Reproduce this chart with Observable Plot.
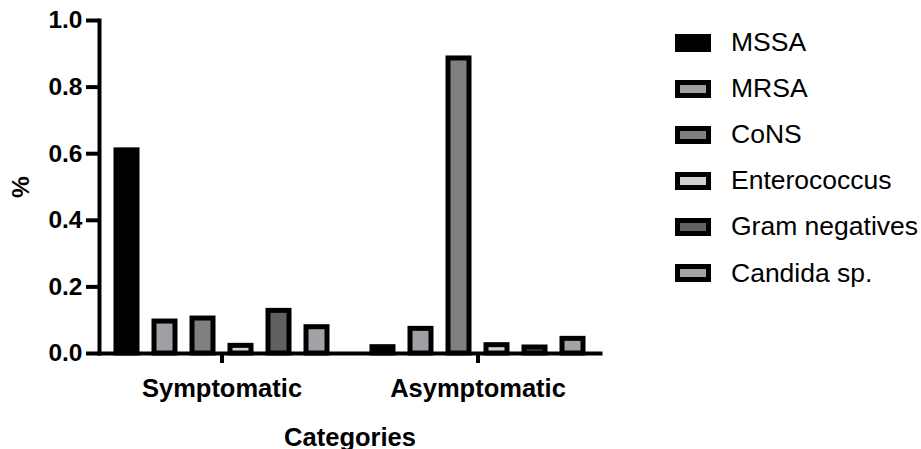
<!DOCTYPE html>
<html>
<head>
<meta charset="utf-8">
<script src="https://cdn.jsdelivr.net/npm/d3@7"></script>
<script src="https://cdn.jsdelivr.net/npm/@observablehq/plot@0.6"></script>
<style>
  html, body { margin: 0; padding: 0; background: #fff; }
  #wrap { position: relative; width: 921px; height: 449px; overflow: hidden; }
  #legend { position: absolute; left: 0; top: 0; font-family: "Liberation Sans", Arial, sans-serif; font-size: 26.5px; color: #000; }
  .item { position: absolute; display: flex; align-items: center; height: 30px; white-space: nowrap; }
  .sw { width: 36px; height: 18px; box-sizing: border-box; border: 5px solid #000; margin-right: 20px; }
</style>
</head>
<body>
<div id="wrap"><div id="legend"></div></div>
<script>
const categories = ["Symptomatic", "Asymptomatic"];
const species = ["MSSA", "MRSA", "CoNS", "Enterococcus", "Gram negatives", "Candida sp."];
const symptomatic = [0.61, 0.096, 0.105, 0.023, 0.128, 0.079];
const asymptomatic = [0.019, 0.074, 0.886, 0.025, 0.018, 0.044];
const colors = ["#000000", "#9f9fa4", "#808080", "#d2d2d2", "#616161", "#a2a2a7"];
const yTicks = [0, 0.2, 0.4, 0.6, 0.8, 1.0];

const series = [symptomatic, asymptomatic];
const data = categories.flatMap((c, i) =>
  species.map((s, j) => ({category: c, species: s, value: series[i][j]}))
);

const chart = Plot.plot({
  width: 921,
  height: 449,
  marginLeft: 98,
  marginRight: 321,
  marginTop: 20,
  marginBottom: 96,
  style: {fontFamily: "'Liberation Sans', Arial, sans-serif", fontWeight: "bold", color: "#000", background: "transparent", overflow: "visible"},
  fx: {domain: categories, paddingInner: 0.044, paddingOuter: 0},
  x: {domain: species, paddingInner: 0.455, paddingOuter: 0.41, axis: null},
  y: {domain: [0, 1]},
  color: {domain: species, range: colors},
  marks: [
    Plot.barY(data, {fx: "category", x: "species", y: "value", fill: "species", stroke: "#000", strokeWidth: 5}),
    Plot.frame({anchor: "left", facet: "super", strokeWidth: 4}),
    Plot.frame({anchor: "bottom", facet: "super", strokeWidth: 4}),
    Plot.axisY({ticks: yTicks, tickSize: 13, tickPadding: 4, tickFormat: d3.format(".1f"), strokeWidth: 4,
      label: "%", labelAnchor: "center", labelArrow: false, labelOffset: 88, fontSize: 24.5}),
    Plot.axisFx({anchor: "bottom", tickSize: 10, tickPadding: 15, strokeWidth: 4, label: "Categories", labelAnchor: "center",
      labelArrow: false, labelOffset: 92, fontSize: 25.5})
  ]
});
document.getElementById("wrap").prepend(chart);

const legend = document.getElementById("legend");
species.forEach((s, i) => {
  const item = document.createElement("div");
  item.className = "item";
  item.style.left = "675px";
  item.style.top = (42.5 + i * 46.1 - 15) + "px";
  const sw = document.createElement("div");
  sw.className = "sw";
  sw.style.background = colors[i];
  const label = document.createElement("span");
  label.textContent = s;
  item.append(sw, label);
  legend.append(item);
});
</script>
</body>
</html>
